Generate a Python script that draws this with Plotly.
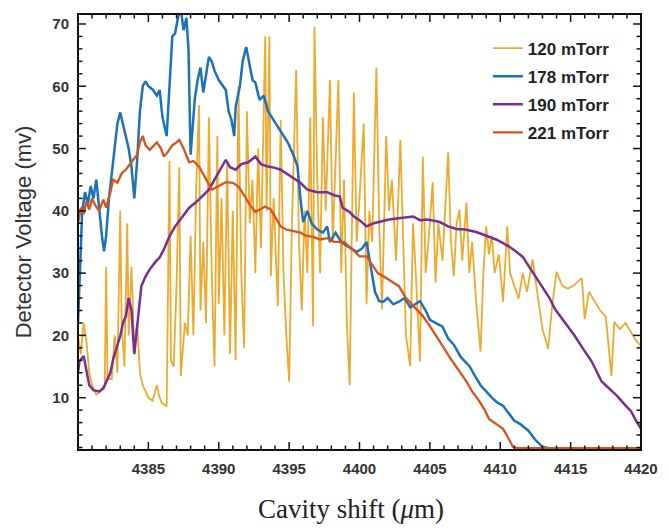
import plotly.graph_objects as go

# ---------------- data ----------------
x_120 = [4380.0, 4380.2, 4380.4, 4380.6, 4380.8, 4381.0, 4381.3, 4381.6, 4381.9, 4382.0,
         4382.1, 4382.4, 4382.6, 4382.8, 4383.0, 4383.1, 4383.3, 4383.5, 4383.6, 4383.8,
         4384.0, 4384.2, 4384.4, 4384.6, 4384.8, 4385.0, 4385.3, 4385.6, 4385.8, 4386.0,
         4386.3, 4386.5, 4386.6, 4386.8, 4387.0, 4387.2, 4387.3, 4387.6, 4387.8, 4388.0,
         4388.2, 4388.4, 4388.6, 4388.7, 4388.9, 4389.1, 4389.3, 4389.5, 4389.7, 4389.9,
         4390.0, 4390.2, 4390.4, 4390.6, 4390.8, 4391.0, 4391.2, 4391.4, 4391.6, 4391.8,
         4392.0, 4392.2, 4392.4, 4392.6, 4392.8, 4393.0, 4393.3, 4393.4, 4393.6, 4393.7,
         4393.9, 4394.2, 4394.4, 4394.6, 4394.8, 4395.0, 4395.2, 4395.5, 4395.7, 4395.9,
         4396.1, 4396.3, 4396.5, 4396.7, 4396.8, 4397.0, 4397.2, 4397.4, 4397.6, 4397.9,
         4398.1, 4398.3, 4398.5, 4398.7, 4398.9, 4399.1, 4399.3, 4399.6, 4399.8, 4400.0,
         4400.3, 4400.5, 4400.7, 4400.9, 4401.2, 4401.4, 4401.6, 4401.9, 4402.1, 4402.3,
         4402.6, 4402.9, 4403.1, 4403.3, 4403.6, 4403.8, 4404.0, 4404.3, 4404.5, 4404.7,
         4404.9, 4405.2, 4405.4, 4405.6, 4405.9, 4406.3, 4406.5, 4406.7, 4406.9, 4407.1,
         4407.3, 4407.6, 4407.8, 4408.0, 4408.3, 4408.6, 4408.8, 4409.0, 4409.2, 4409.4,
         4409.6, 4409.9, 4410.2, 4410.5, 4410.7, 4411.0, 4411.3, 4411.6, 4411.9, 4412.3,
         4412.6, 4413.0, 4413.4, 4413.7, 4414.0, 4414.4, 4414.8, 4415.2, 4415.8, 4416.0,
         4416.3, 4416.7, 4417.1, 4417.5, 4417.9, 4418.1, 4418.5, 4418.9, 4419.3, 4419.7,
         4420.0]
y_120 = [20, 17, 22, 19, 14, 12, 10.5, 11, 12, 31,
         13, 13, 20, 14, 40, 22, 15, 38, 20, 31,
         18, 22, 14, 12, 11, 10, 9.5, 12, 10, 9,
         8.7, 48, 16, 15, 28, 47, 13.5, 22, 20, 36,
         20, 44, 57, 24, 35, 22, 55, 30, 15, 52,
         25, 42, 20, 48, 17, 40, 16, 60, 30, 18,
         56, 38, 45, 30, 50, 34, 68, 40, 68, 29.5,
         42, 24.7, 54.6, 30, 20, 12.6, 38, 62.6, 35, 24,
         40, 30, 55, 21.5, 69.5, 45, 30, 55, 40, 61,
         35, 48, 61, 30, 45, 22, 12, 59, 35, 42,
         54, 25, 40, 35, 63, 38, 24.2, 52, 40, 45,
         32, 51.4, 35, 20, 15.1, 38, 30, 15.8, 48.7, 30,
         35, 44.6, 28.5, 38, 32, 49.4, 35, 29.5, 38, 40.2,
         32, 41.3, 30, 35, 25, 17.4, 30, 37.5, 33, 36,
         30, 33, 25.4, 37.5, 30, 28, 25.9, 30, 27, 32.2,
         27, 21, 17.8, 25, 30.2, 28, 27.5, 28, 29.2, 22.6,
         27, 25.4, 24, 23, 13.5, 22.2, 21, 22, 20.6, 19,
         18.3]

x_178 = [4380.0, 4380.15, 4380.3, 4380.5, 4380.7, 4380.9, 4381.1, 4381.3, 4381.5, 4381.7,
         4381.85, 4382.0, 4382.2, 4382.4, 4382.6, 4382.8, 4383.0, 4383.2, 4383.4, 4383.6,
         4383.8, 4384.0, 4384.2, 4384.4, 4384.6, 4384.8, 4385.0, 4385.3, 4385.6, 4385.8,
         4386.0, 4386.3, 4386.5, 4386.7, 4386.9, 4387.1, 4387.3, 4387.5, 4387.7, 4387.85,
         4388.0, 4388.15, 4388.3, 4388.5, 4388.7, 4388.9, 4389.1, 4389.3, 4389.5, 4389.7,
         4390.0, 4390.3, 4390.5, 4390.7, 4390.9, 4391.1, 4391.2, 4391.5, 4391.7, 4391.95,
         4392.2, 4392.4, 4392.6, 4392.9, 4393.2, 4393.5, 4394.0, 4394.5, 4394.9, 4395.3,
         4395.6, 4395.8, 4396.0, 4396.3, 4396.6, 4397.0, 4397.4, 4397.7, 4397.9, 4398.3,
         4398.7, 4399.0, 4399.4, 4399.8, 4400.2, 4400.5, 4400.8, 4401.1, 4401.4, 4401.7,
         4402.0, 4402.4, 4402.8, 4403.2, 4403.6, 4404.0, 4404.3, 4404.7, 4405.0, 4405.4,
         4405.9, 4406.3, 4406.7, 4407.2, 4407.8, 4408.2, 4408.6, 4409.0, 4409.4, 4409.8,
         4410.2, 4410.6, 4411.0, 4411.4, 4412.0, 4412.5, 4413.0, 4413.5, 4414.0, 4420.0]
y_178 = [22, 30, 40, 43, 41, 44, 42, 45, 40, 36,
         33.5, 36, 42, 46, 50, 54, 55.8, 54, 52, 50,
         47, 42, 48, 56, 60, 60.8, 60, 59.5, 58.5, 59.4,
         55, 52, 60, 68, 68.5, 71, 72.5, 69, 71, 66,
         49, 53, 58, 61, 63, 59, 62, 64.7, 64, 62.5,
         61, 60, 59.4, 56, 54.6, 52, 56.7, 60, 64, 66.3,
         63, 61, 60.6, 57.8, 58.5, 56, 54.2, 52.5, 51, 49,
         47.1, 42, 38.2, 40, 38, 37, 36.5, 37.5, 35, 36.5,
         35, 34.5, 34, 33.4, 34, 35, 31, 27, 25.5, 25.4,
         26, 25, 25.4, 26, 24.5, 25, 25.5, 24, 22.5, 22,
         21.4, 19.5, 18.5, 16.5, 15.1, 13.5, 12, 11, 10, 9.2,
         8.7, 7.5, 6.3, 5.8, 4.7, 3.2, 2.1, 1.9, 1.9, 1.9]

x_190 = [4380.0, 4380.1, 4380.4, 4380.6, 4380.8, 4381.1, 4381.5, 4381.8, 4382.0, 4382.3,
         4382.5, 4382.8, 4383.0, 4383.2, 4383.4, 4383.6, 4383.8, 4384.0, 4384.2, 4384.5,
         4384.8, 4385.1, 4385.5, 4385.8, 4386.1, 4386.5, 4386.9, 4387.4, 4387.9, 4388.4,
         4388.9, 4389.3, 4389.7, 4390.1, 4390.5, 4390.8, 4391.2, 4391.6, 4392.1, 4392.6,
         4393.0, 4393.5, 4394.0, 4394.4, 4394.9, 4395.4, 4395.8, 4396.3, 4397.0, 4397.7,
         4398.2, 4398.6, 4398.8, 4399.3, 4399.6, 4400.0, 4400.5, 4401.0, 4401.5, 4402.1,
         4402.8, 4403.4, 4403.8, 4404.3, 4404.8, 4405.3, 4405.7, 4406.3, 4406.9, 4407.5,
         4408.3, 4409.0, 4409.7, 4410.2, 4410.6, 4411.1, 4411.6, 4412.0, 4412.5, 4413.0,
         4413.5, 4413.9, 4414.6, 4415.3, 4415.9, 4416.5, 4417.2, 4417.7, 4418.3, 4418.8,
         4419.3, 4419.6, 4419.9, 4420.0]
y_190 = [14, 15.8, 16.7, 14, 12, 11.2, 11, 11.5, 12.6, 14,
         16.2, 18.5, 19.9, 22, 23.1, 26, 24, 17, 21, 27.9,
         29.5, 30.6, 31.8, 32.5, 33.8, 35.9, 37.5, 39.1, 40.5, 41.4,
         42.5, 43.4, 45, 46.5, 48.2, 47, 46.6, 47.5, 47.8, 48.7,
         47.5, 47.1, 46.9, 46.6, 45.8, 45, 44.5, 43.4, 43, 43,
         42.5, 42.3, 40.5, 39.8, 39.1, 38.5, 37.5, 38, 38.3, 38.6,
         38.8, 39, 39.1, 38.5, 38.6, 38.4, 38.2, 37.5, 37.1, 37,
         36.6, 36, 35.4, 34.8, 34.3, 33.5, 32.6, 31.2, 29.5, 27.9,
         26, 24.2, 22, 19.9, 17.8, 15.8, 12.6, 11.5, 10.3, 9,
         7.8, 6.5, 5.5, 5]

x_221 = [4380.0, 4380.2, 4380.4, 4380.6, 4380.8, 4381.0, 4381.2, 4381.5, 4381.8, 4382.0,
         4382.3, 4382.5, 4382.8, 4383.1, 4383.4, 4383.7, 4383.9, 4384.2, 4384.4, 4384.6,
         4384.8, 4385.1, 4385.4, 4385.6, 4385.9, 4386.1, 4386.4, 4386.7, 4387.0, 4387.2,
         4387.5, 4387.7, 4387.9, 4388.2, 4388.6, 4389.0, 4389.5, 4390.0, 4390.5, 4391.0,
         4391.4, 4391.8, 4392.2, 4392.6, 4393.0, 4393.3, 4393.7, 4394.0, 4394.4, 4394.8,
         4395.3, 4395.8, 4396.2, 4396.7, 4397.2, 4397.7, 4398.2, 4398.9, 4399.4, 4400.0,
         4400.5, 4401.0, 4401.3, 4401.7, 4402.2, 4402.8, 4403.3, 4403.9, 4404.5, 4405.0,
         4405.5, 4405.9, 4406.4, 4407.0, 4407.6, 4408.0, 4408.5, 4408.9, 4409.2, 4409.7,
         4410.2, 4410.5, 4410.9, 4411.2, 4420.0]
y_221 = [38, 40.5, 39.5, 41.5, 40.2, 42, 41, 40, 41.8, 40.5,
         43, 45, 44.5, 46, 46.6, 47.5, 48.2, 49, 51, 52,
         50.5, 49.8, 50.5, 51, 50, 48.7, 49.5, 50.5, 51, 51.4,
         50, 49, 47.8, 48, 47.1, 45.5, 43.4, 44, 44.6, 44.5,
         43.9, 42.5, 41, 39.8, 40.3, 40.7, 40.2, 39, 37.5, 37,
         36.8, 36.5, 36, 35.8, 35.4, 35.6, 35, 35, 34, 32.7,
         32.7, 31, 30, 29.5, 28.8, 27.9, 26, 24.5, 23.1, 21.5,
         19.8, 18.3, 16.5, 14.5, 12.6, 11, 9.5, 8, 6.6, 5.8,
         5, 3.8, 2.1, 1.9, 1.9]

series_names = ["120 mTorr", "178 mTorr", "190 mTorr", "221 mTorr"]
series_colors = ["#EDAA2E", "#1B72BB", "#7A2D92", "#D9531C"]

x_ticks = [4385, 4390, 4395, 4400, 4405, 4410, 4415, 4420]
y_ticks = [10, 20, 30, 40, 50, 60, 70]
x_range = [4380, 4420]
y_range = [1.6, 71.6]

# ---------------- figure ----------------
fig = go.Figure()
xs = [x_120, x_178, x_190, x_221]
ys = [y_120, y_178, y_190, y_221]
widths = [1.8, 2.5, 2.5, 2.3]
for i in range(4):
    fig.add_trace(go.Scatter(
        x=xs[i], y=ys[i], mode="lines", name=series_names[i],
        line=dict(color=series_colors[i], width=widths[i]),
        legendgroup=series_names[i],
    ))

tick_font = dict(family="Liberation Sans", size=15, color="#333333", weight="bold")

# axis frame + inside ticks, drawn as filled shapes in paper coordinates
L, R, T, B = 78, 647, 14, 450
W, H = R - L, B - T
maj_h, min_h = 8.0 / H, 4.5 / H
maj_w, min_w = 8.0 / W, 4.5 / W
half_px_x, half_px_y = 0.75 / W, 0.75 / H
tick_col = "#111111"
frame_line = dict(color=tick_col, width=2)
no_line = dict(width=0)


def to_px(v):
    return (v - x_range[0]) / (x_range[1] - x_range[0])


def to_py(v):
    return (v - y_range[0]) / (y_range[1] - y_range[0])


shapes = [dict(type="rect", xref="paper", yref="paper", x0=0, x1=1, y0=0, y1=1,
               line=frame_line, layer="above")]
for v in range(x_range[0] + 1, x_range[1]):
    ln = maj_h if v % 5 == 0 else min_h
    p = to_px(v)
    shapes.append(dict(type="rect", xref="paper", yref="paper", x0=p - half_px_x, x1=p + half_px_x,
                       y0=0, y1=ln, fillcolor=tick_col, line=no_line, layer="above"))
    shapes.append(dict(type="rect", xref="paper", yref="paper", x0=p - half_px_x, x1=p + half_px_x,
                       y0=1 - ln, y1=1, fillcolor=tick_col, line=no_line, layer="above"))
for v in range(2, 72, 2):
    ln = maj_w if v % 10 == 0 else min_w
    p = to_py(v)
    shapes.append(dict(type="rect", xref="paper", yref="paper", x0=0, x1=ln,
                       y0=p - half_px_y, y1=p + half_px_y, fillcolor=tick_col, line=no_line, layer="above"))
    shapes.append(dict(type="rect", xref="paper", yref="paper", x0=1 - ln, x1=1,
                       y0=p - half_px_y, y1=p + half_px_y, fillcolor=tick_col, line=no_line, layer="above"))

fig.update_layout(
    width=670, height=529,
    margin=dict(l=L, r=670 - R, t=T, b=529 - B),
    plot_bgcolor="white", paper_bgcolor="white",
    showlegend=True,
    shapes=shapes,
    xaxis=dict(
        range=x_range, tickmode="array", tickvals=x_ticks,
        showline=False, ticks="", showgrid=False, zeroline=False, tickfont=tick_font,
        ticklabelstandoff=8,
    ),
    yaxis=dict(
        range=y_range, tickmode="array", tickvals=y_ticks,
        showline=False, ticks="", showgrid=False, zeroline=False, tickfont=tick_font,
        ticklabelstandoff=8,
        title=dict(text="Detector Voltage (mv)",
                   font=dict(family="Liberation Sans", size=22, color="#333333"), standoff=14),
    ),
    annotations=[dict(text="Cavity shift (<i>μ</i>m)", xref="paper", yref="paper",
                      x=0.485, y=-0.135, xanchor="center", yanchor="middle", showarrow=False,
                      font=dict(family="Liberation Serif", size=27, color="#222222"))],
    legend=dict(
        x=0.728, y=0.962, xanchor="left", yanchor="top",
        bgcolor="rgba(255,255,255,0)", borderwidth=0,
        font=dict(family="Liberation Sans", size=17, color="#222222", weight="bold"),
        tracegroupgap=3, traceorder="grouped",
    ),
)

fig.write_html("out.html")
